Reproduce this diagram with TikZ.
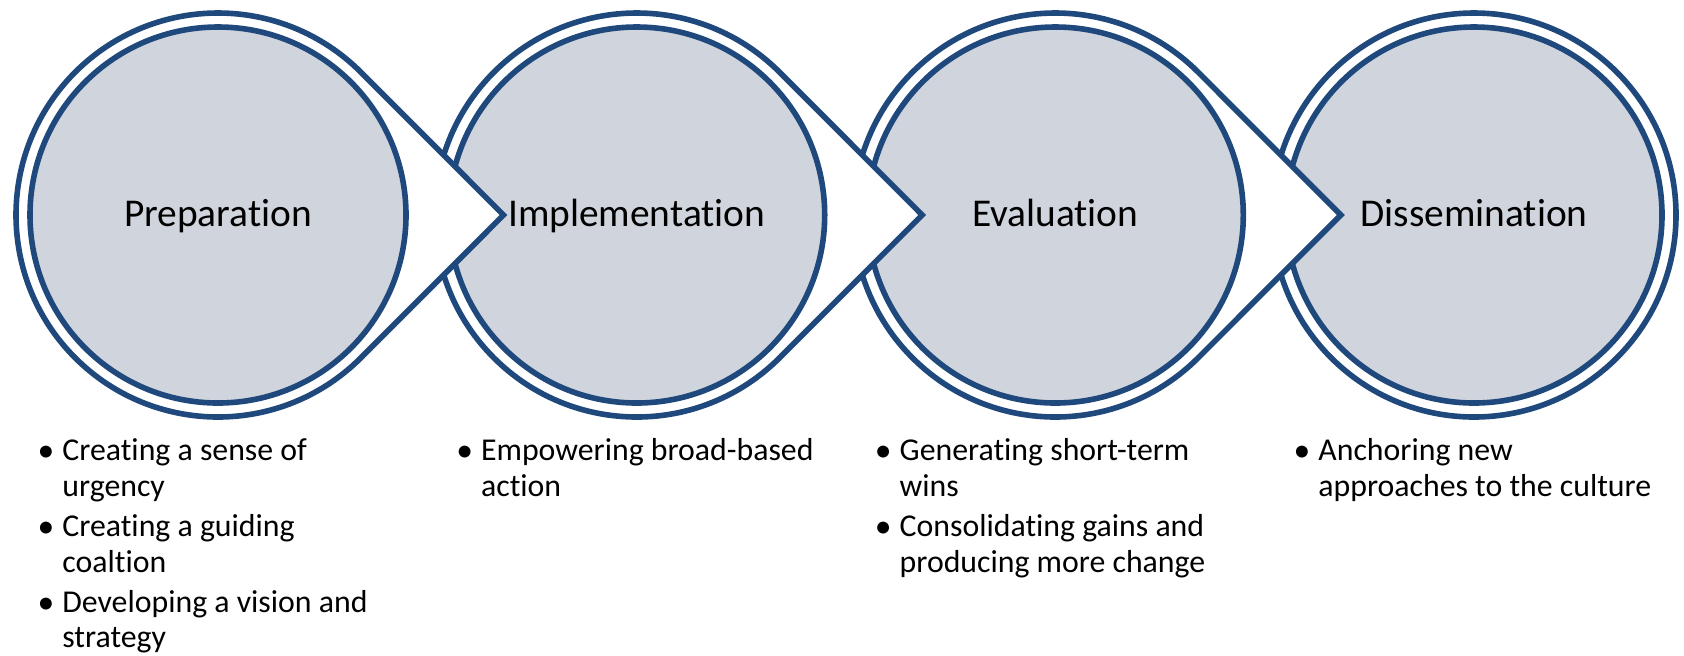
\documentclass[tikz,border=0pt]{standalone}
\usepackage{fontspec}
\setmainfont{Carlito}[Ligatures=NoCommon]
\usetikzlibrary{calc}
\definecolor{ringblue}{RGB}{31,73,125}
\definecolor{discgray}{RGB}{208,212,220}

\begin{document}
\begin{tikzpicture}[x=0.5pt,y=-0.5pt,
  ring/.style={draw=ringblue, line width=2.8pt, line join=miter, miter limit=10},
  outline/.style={ring, fill=white},
  disc/.style={ring, fill=discgray},
  title/.style={font=\fontsize{19.7pt}{23pt}\selectfont, anchor=base, inner sep=0pt},
  item/.style={font=\fontsize{15.9pt}{18pt}\selectfont, anchor=base west, inner sep=0pt},
  dot/.style={font=\fontsize{16.8pt}{18pt}\selectfont, anchor=base, inner sep=0pt, xshift=-1pt, yshift=-0.5pt}
]
\useasboundingbox (0,0) rectangle (1684,655);

% stage centres
\coordinate (c1) at (218,215);
\coordinate (c2) at (636.7,215);
\coordinate (c3) at (1055.3,215);
\coordinate (c4) at (1474,215);

% last stage: plain double ring
\draw[outline] (c4) circle[radius=202];
\draw[disc] (c4) circle[radius=188];

% stages with a pointer, drawn right to left so each pointer lies over the next stage
\foreach \c in {c3,c2,c1} {
  \draw[outline] ($(\c)+(45:202)$) arc[start angle=45, end angle=315, radius=202]
    -- ($(\c)+(285.5,0)$) -- cycle;
  \draw[disc] (\c) circle[radius=188];
}

% stage titles
\node[title] (t1) at (218,226) {Preparation};
\node[title] (t2) at (636.7,226) {Implementation};
\node[title] (t3) at (1055.3,226) {Evaluation};
\node[title] (t4) at (1474,226) {Dissemination};

% Preparation
\node[dot]  (p1b) at (48,460)   {\textbullet};
\node[item] (p1a) at (62,460)   {Creating a sense of};
\node[item] (p1c) at (62,496.5) {urgency};
\node[dot]  (p2b) at (48,536.5) {\textbullet};
\node[item] (p2a) at (62,536.5) {Creating a guiding};
\node[item] (p2c) at (62,572)   {coaltion};
\node[dot]  (p3b) at (48,612)   {\textbullet};
\node[item] (p3a) at (62,612)   {Developing a vision and};
\node[item] (p3c) at (62,647)   {strategy};

% Implementation
\node[dot]  (i1b) at (466.7,460) {\textbullet};
\node[item] (i1a) at (480.7,460) {Empowering broad-based};
\node[item] (i1c) at (480.7,496.5) {action};

% Evaluation
\node[dot]  (e1b) at (885.3,460)   {\textbullet};
\node[item] (e1a) at (899.3,460)   {Generating short-term};
\node[item] (e1c) at (899.3,496.5) {wins};
\node[dot]  (e2b) at (885.3,536.5) {\textbullet};
\node[item] (e2a) at (899.3,536.5) {Consolidating gains and};
\node[item] (e2c) at (899.3,572)   {producing more change};

% Dissemination
\node[dot]  (d1b) at (1304,460)   {\textbullet};
\node[item] (d1a) at (1318,460)   {Anchoring new};
\node[item] (d1c) at (1318,496.5) {approaches to the culture};
\end{tikzpicture}
\end{document}
